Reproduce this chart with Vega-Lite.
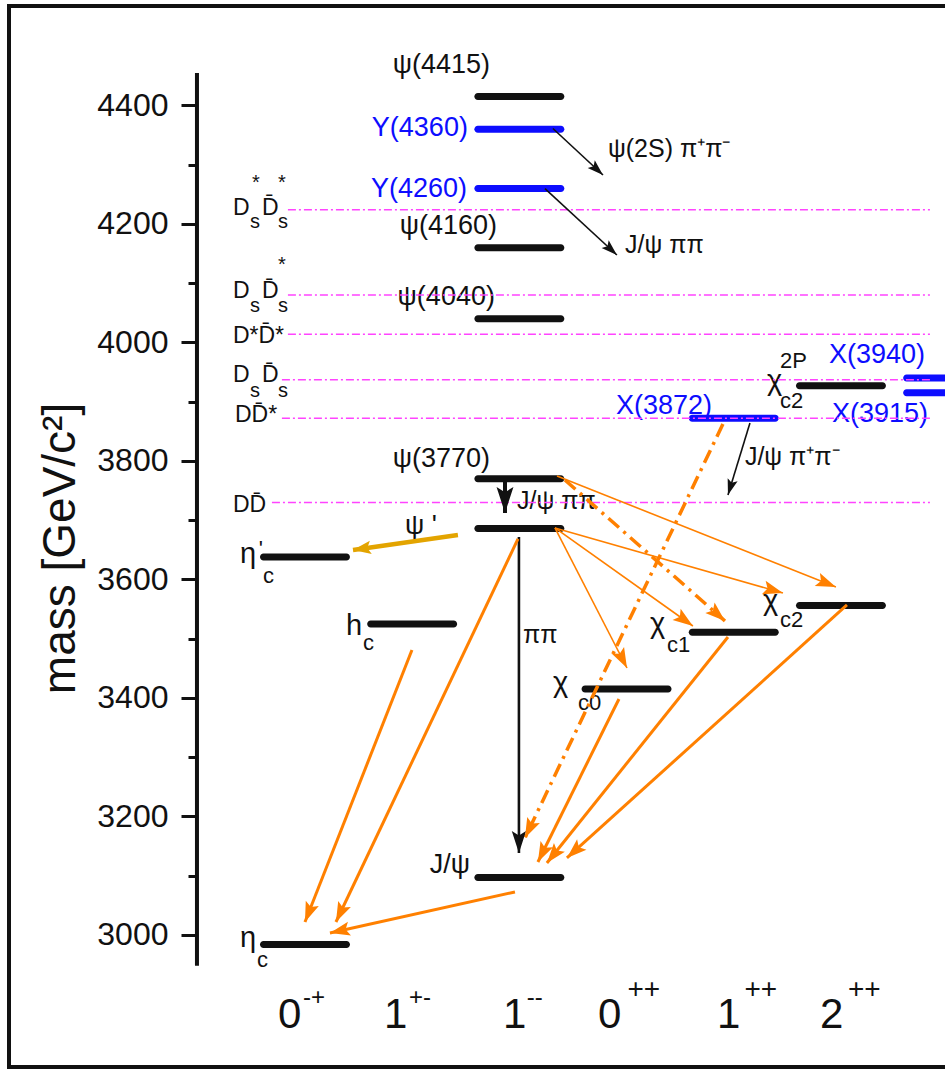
{
  "$schema": "https://vega.github.io/schema/vega-lite/v6.json",
  "width": 940,
  "height": 1061,
  "padding": {"left": 9, "top": 6, "right": -4, "bottom": 2},
  "autosize": {"type": "none"},
  "background": "white",
  "config": {
    "view": {"stroke": "#111", "strokeWidth": 4},
    "text": {"font": "Liberation Sans"}
  },
  "resolve": {"axis": {"y": "independent"}},
  "datasets": {
    "axisLine": [{"ax": -1.0075, "lo": 2948, "hi": 4455}],
    "levels": [
      {"name": "eta_c", "col": 0, "m": 2984, "kind": "cc"},
      {"name": "eta_c(2S)", "col": 0, "m": 3638, "kind": "cc"},
      {"name": "h_c", "col": 1, "m": 3525, "kind": "cc"},
      {"name": "J/psi", "col": 2, "m": 3097, "kind": "cc"},
      {"name": "psi(2S)", "col": 2, "m": 3686, "kind": "cc"},
      {"name": "psi(3770)", "col": 2, "m": 3770, "kind": "cc"},
      {"name": "psi(4040)", "col": 2, "m": 4040, "kind": "cc"},
      {"name": "psi(4160)", "col": 2, "m": 4160, "kind": "cc"},
      {"name": "psi(4415)", "col": 2, "m": 4415, "kind": "cc"},
      {"name": "Y(4260)", "col": 2, "m": 4260, "kind": "exotic"},
      {"name": "Y(4360)", "col": 2, "m": 4360, "kind": "exotic"},
      {"name": "chi_c0", "col": 3, "m": 3415, "kind": "cc"},
      {"name": "chi_c1", "col": 4, "m": 3511, "kind": "cc"},
      {"name": "chi_c2", "col": 5, "m": 3556, "kind": "cc"},
      {"name": "X(3872)", "col": 4, "m": 3872, "kind": "exotic"},
      {"name": "chi_c2(2P)", "col": 5, "m": 3927, "kind": "cc"},
      {"name": "X(3940)", "col": 6, "m": 3940, "kind": "exotic"},
      {"name": "X(3915)", "col": 6, "m": 3915, "kind": "exotic"}
    ],
    "thresholds": [
      {"name": "Ds*Ds*", "m": 4224, "x0": -0.159, "x1": 5.83},
      {"name": "DsDs*", "m": 4080, "x0": -0.159, "x1": 5.83},
      {"name": "D*D*", "m": 4014, "x0": -0.159, "x1": 5.83},
      {"name": "DsDs", "m": 3937, "x0": -0.215, "x1": 5.83},
      {"name": "DD*", "m": 3872, "x0": -0.215, "x1": 5.83},
      {"name": "DD", "m": 3730, "x0": -0.308, "x1": 5.83}
    ],
    "arrows": [
      {"x1": 2.313, "m1": 4361.2, "x2": 2.78, "m2": 4282.7, "kind": "bt"},
      {"x1": 2.239, "m1": 4259.8, "x2": 2.91, "m2": 4147.7, "kind": "bt"},
      {"x1": 4.151, "m1": 3864.1, "x2": 3.946, "m2": 3742.6, "kind": "bt"},
      {"x1": 1.866, "m1": 3771.3, "x2": 1.866, "m2": 3712.2, "kind": "bk"},
      {"x1": 1.996, "m1": 3671.7, "x2": 1.996, "m2": 3138.4, "kind": "bm"},
      {"x1": 1.427, "m1": 3675.1, "x2": 0.448, "m2": 3649.8, "kind": "gold"},
      {"x1": 2.332, "m1": 3687, "x2": 3.004, "m2": 3450.6, "kind": "ot"},
      {"x1": 2.332, "m1": 3687, "x2": 3.619, "m2": 3521.5, "kind": "ot"},
      {"x1": 2.332, "m1": 3687, "x2": 4.459, "m2": 3577.2, "kind": "ot"},
      {"x1": 2.351, "m1": 3774.7, "x2": 4.953, "m2": 3587.3, "kind": "ot"},
      {"x1": 2.425, "m1": 3768, "x2": 3.918, "m2": 3530, "kind": "od"},
      {"x1": 3.899, "m1": 3862.4, "x2": 2.052, "m2": 3163.7, "kind": "od"},
      {"x1": 1.987, "m1": 3668.4, "x2": 0.289, "m2": 3021.9, "kind": "ok"},
      {"x1": 0.998, "m1": 3481, "x2": 0.0, "m2": 3021.9, "kind": "ok"},
      {"x1": 1.959, "m1": 3072.6, "x2": 0.233, "m2": 3003.4, "kind": "ok"},
      {"x1": 2.929, "m1": 3398.3, "x2": 2.173, "m2": 3123.2, "kind": "ok"},
      {"x1": 3.946, "m1": 3503, "x2": 2.257, "m2": 3121.5, "kind": "ok"},
      {"x1": 5.056, "m1": 3557, "x2": 2.444, "m2": 3130, "kind": "ok"}
    ],
    "labels": [
      {"t": "ψ(4415)", "x": 1.726, "m": 4468, "role": "nameR", "kind": "cc"},
      {"t": "Y(4360)", "x": 1.52, "m": 4362, "role": "nameR", "kind": "exotic"},
      {"t": "Y(4260)", "x": 1.511, "m": 4259, "role": "nameR", "kind": "exotic"},
      {"t": "ψ(4160)", "x": 1.791, "m": 4196, "role": "nameR", "kind": "cc"},
      {"t": "ψ(4040)", "x": 1.772, "m": 4076, "role": "nameR", "kind": "cc"},
      {"t": "ψ(3770)", "x": 1.726, "m": 3804, "role": "nameR", "kind": "cc"},
      {"t": "X(3872)", "x": 3.797, "m": 3893, "role": "nameR", "kind": "exotic"},
      {"t": "X(3940)", "x": 5.784, "m": 3979, "role": "nameR", "kind": "exotic"},
      {"t": "X(3915)", "x": 5.812, "m": 3880, "role": "nameR", "kind": "exotic"},
      {"t": "J/ψ", "x": 1.539, "m": 3118, "role": "nameR", "kind": "cc"},
      {"t": "ψ '", "x": 0.933, "m": 3691, "role": "nameL", "kind": "cc"},
      {"t": "ψ(2S) π⁺π⁻", "x": 2.826, "m": 4327, "role": "note", "kind": "cc"},
      {"t": "J/ψ ππ", "x": 2.985, "m": 4165, "role": "note", "kind": "cc"},
      {"t": "J/ψ ππ", "x": 1.978, "m": 3732, "role": "note", "kind": "cc"},
      {"t": "ππ", "x": 2.034, "m": 3506, "role": "note", "kind": "cc"},
      {"t": "J/ψ π⁺π⁻", "x": 4.104, "m": 3807, "role": "note", "kind": "cc"},
      {"t": "η", "x": -0.606, "m": 3627.8, "role": "sym", "kind": "cc"},
      {"t": "h", "x": 0.382, "m": 3506.3, "role": "sym", "kind": "cc"},
      {"t": "χ", "x": 2.313, "m": 3410.1, "role": "sym", "kind": "cc"},
      {"t": "χ", "x": 3.218, "m": 3509.7, "role": "sym", "kind": "cc"},
      {"t": "χ", "x": 4.272, "m": 3548.5, "role": "sym", "kind": "cc"},
      {"t": "χ", "x": 4.31, "m": 3919.8, "role": "sym", "kind": "cc"},
      {"t": "η", "x": -0.606, "m": 2979.7, "role": "sym", "kind": "cc"},
      {"t": "c", "x": -0.392, "m": 3594.1, "role": "symsub", "kind": "cc"},
      {"t": "c", "x": 0.541, "m": 3481.0, "role": "symsub", "kind": "cc"},
      {"t": "c0", "x": 2.547, "m": 3379.7, "role": "symsub", "kind": "cc"},
      {"t": "c1", "x": 3.377, "m": 3477.6, "role": "symsub", "kind": "cc"},
      {"t": "c2", "x": 4.431, "m": 3519.8, "role": "symsub", "kind": "cc"},
      {"t": "c2", "x": 4.431, "m": 3889.5, "role": "symsub", "kind": "cc"},
      {"t": "c", "x": -0.448, "m": 2946.0, "role": "symsub", "kind": "cc"},
      {"t": "'", "x": -0.43, "m": 3639.7, "role": "symsup", "kind": "cc"},
      {"t": "2P", "x": 4.431, "m": 3957, "role": "symsup", "kind": "cc"},
      {"t": "D", "x": -0.672, "m": 4215.2, "role": "dmain", "kind": "cc"},
      {"t": "D̄", "x": -0.401, "m": 4215.2, "role": "dmain", "kind": "cc"},
      {"t": "D", "x": -0.672, "m": 4075.1, "role": "dmain", "kind": "cc"},
      {"t": "D̄", "x": -0.401, "m": 4075.1, "role": "dmain", "kind": "cc"},
      {"t": "D*D̄*", "x": -0.672, "m": 3999.2, "role": "dmain", "kind": "cc"},
      {"t": "D", "x": -0.672, "m": 3933.3, "role": "dmain", "kind": "cc"},
      {"t": "D̄", "x": -0.401, "m": 3933.3, "role": "dmain", "kind": "cc"},
      {"t": "DD̄*", "x": -0.653, "m": 3865.8, "role": "dmain", "kind": "cc"},
      {"t": "DD̄", "x": -0.672, "m": 3713.9, "role": "dmain", "kind": "cc"},
      {"t": "s", "x": -0.513, "m": 4193.2, "role": "dsub", "kind": "cc"},
      {"t": "s", "x": -0.252, "m": 4193.2, "role": "dsub", "kind": "cc"},
      {"t": "s", "x": -0.513, "m": 4051.5, "role": "dsub", "kind": "cc"},
      {"t": "s", "x": -0.252, "m": 4051.5, "role": "dsub", "kind": "cc"},
      {"t": "s", "x": -0.513, "m": 3908.0, "role": "dsub", "kind": "cc"},
      {"t": "s", "x": -0.252, "m": 3908.0, "role": "dsub", "kind": "cc"},
      {"t": "*", "x": -0.494, "m": 4259.1, "role": "dsup", "kind": "cc"},
      {"t": "*", "x": -0.252, "m": 4259.1, "role": "dsup", "kind": "cc"},
      {"t": "*", "x": -0.252, "m": 4120.7, "role": "dsup", "kind": "cc"},
      {"t": "0", "x": -0.252, "m": 2843.0, "role": "jpc", "kind": "cc"},
      {"t": "1", "x": 0.737, "m": 2843.0, "role": "jpc", "kind": "cc"},
      {"t": "1", "x": 1.847, "m": 2843.0, "role": "jpc", "kind": "cc"},
      {"t": "0", "x": 2.733, "m": 2843.0, "role": "jpc", "kind": "cc"},
      {"t": "1", "x": 3.843, "m": 2843.0, "role": "jpc", "kind": "cc"},
      {"t": "2", "x": 4.804, "m": 2843.0, "role": "jpc", "kind": "cc"},
      {"t": "-+", "x": -0.019, "m": 2881.9, "role": "jpcLow", "kind": "cc"},
      {"t": "+-", "x": 0.97, "m": 2881.9, "role": "jpcLow", "kind": "cc"},
      {"t": "--", "x": 2.07, "m": 2881.9, "role": "jpcLow", "kind": "cc"},
      {"t": "++", "x": 3.008, "m": 2893.7, "role": "jpcHigh", "kind": "cc"},
      {"t": "++", "x": 4.1, "m": 2893.7, "role": "jpcHigh", "kind": "cc"},
      {"t": "++", "x": 5.065, "m": 2893.7, "role": "jpcHigh", "kind": "cc"}
    ]
  },
  "layer": [
    {
      "data": {"name": "axisLine"},
      "mark": {"type": "rule", "color": "#111", "strokeWidth": 4},
      "encoding": {
        "x": {"field": "ax", "type": "quantitative", "scale": {"domain": [-2.761, 6.008], "nice": false, "zero": false}, "axis": null},
        "y": {
          "field": "lo", "type": "quantitative",
          "scale": {"domain": [2777.2, 4567.9], "nice": false, "zero": false},
          "axis": {
            "orient": "left", "offset": -188, "domain": false, "grid": false, "labels": false, "title": null,
            "values": [3100, 3300, 3500, 3700, 3900, 4100, 4300],
            "tickSize": 9, "tickWidth": 3, "tickColor": "#111"
          }
        },
        "y2": {"field": "hi"}
      }
    },
    {
      "data": {"name": "levels"},
      "mark": {"type": "tick", "orient": "horizontal", "size": 90, "thickness": 7, "cornerRadius": 3.5, "opacity": 1},
      "encoding": {
        "x": {"field": "col", "type": "quantitative", "scale": {"domain": [-2.761, 6.008], "nice": false, "zero": false}, "axis": null},
        "y": {
          "field": "m", "type": "quantitative",
          "scale": {"domain": [2777.2, 4567.9], "nice": false, "zero": false},
          "axis": {
            "orient": "left", "offset": -188, "domain": false, "grid": false,
            "values": [3000, 3200, 3400, 3600, 3800, 4000, 4200, 4400],
            "format": "d",
            "tickSize": 16, "tickWidth": 3, "tickColor": "#111",
            "labelFont": "Liberation Sans", "labelFontSize": 32, "labelColor": "#111", "labelPadding": 13,
            "title": "mass [GeV/c²]", "titleFont": "Liberation Sans", "titleFontSize": 46, "titleFontWeight": "normal",
            "titleColor": "#111", "titlePadding": 12, "titleY": 542
          }
        },
        "color": {"field": "kind", "type": "nominal", "scale": {"domain": ["cc", "exotic"], "range": ["#111111", "#0d0dff"]}, "legend": null}
      }
    },
    {
      "data": {"name": "labels"},
      "transform": [{"filter": "datum.role === 'nameR'"}],
      "mark": {"type": "text", "align": "right", "baseline": "middle", "fontSize": 27},
      "encoding": {
        "x": {"field": "x", "type": "quantitative", "scale": {"domain": [-2.761, 6.008], "nice": false, "zero": false}, "axis": null},
        "y": {"field": "m", "type": "quantitative", "scale": {"domain": [2777.2, 4567.9], "nice": false, "zero": false}, "axis": null},
        "text": {"field": "t"},
        "color": {"field": "kind", "type": "nominal", "scale": {"domain": ["cc", "exotic"], "range": ["#111111", "#0d0dff"]}, "legend": null}
      }
    },
    {
      "data": {"name": "labels"},
      "transform": [{"filter": "datum.role === 'nameL'"}],
      "mark": {"type": "text", "align": "left", "baseline": "middle", "fontSize": 27, "color": "#111"},
      "encoding": {
        "x": {"field": "x", "type": "quantitative", "scale": {"domain": [-2.761, 6.008], "nice": false, "zero": false}, "axis": null},
        "y": {"field": "m", "type": "quantitative", "scale": {"domain": [2777.2, 4567.9], "nice": false, "zero": false}, "axis": null},
        "text": {"field": "t"}
      }
    },
    {
      "data": {"name": "labels"},
      "transform": [{"filter": "datum.role === 'note'"}],
      "mark": {"type": "text", "align": "left", "baseline": "middle", "fontSize": 25, "color": "#111"},
      "encoding": {
        "x": {"field": "x", "type": "quantitative", "scale": {"domain": [-2.761, 6.008], "nice": false, "zero": false}, "axis": null},
        "y": {"field": "m", "type": "quantitative", "scale": {"domain": [2777.2, 4567.9], "nice": false, "zero": false}, "axis": null},
        "text": {"field": "t"}
      }
    },
    {
      "data": {"name": "labels"},
      "transform": [{"filter": "datum.role === 'sym'"}],
      "mark": {"type": "text", "align": "left", "baseline": "alphabetic", "fontSize": 29, "color": "#111"},
      "encoding": {
        "x": {"field": "x", "type": "quantitative", "scale": {"domain": [-2.761, 6.008], "nice": false, "zero": false}, "axis": null},
        "y": {"field": "m", "type": "quantitative", "scale": {"domain": [2777.2, 4567.9], "nice": false, "zero": false}, "axis": null},
        "text": {"field": "t"}
      }
    },
    {
      "data": {"name": "labels"},
      "transform": [{"filter": "datum.role === 'symsub' || datum.role === 'symsup'"}],
      "mark": {"type": "text", "align": "left", "baseline": "alphabetic", "fontSize": 22, "color": "#111"},
      "encoding": {
        "x": {"field": "x", "type": "quantitative", "scale": {"domain": [-2.761, 6.008], "nice": false, "zero": false}, "axis": null},
        "y": {"field": "m", "type": "quantitative", "scale": {"domain": [2777.2, 4567.9], "nice": false, "zero": false}, "axis": null},
        "text": {"field": "t"}
      }
    },
    {
      "data": {"name": "labels"},
      "transform": [{"filter": "datum.role === 'dmain'"}],
      "mark": {"type": "text", "align": "left", "baseline": "alphabetic", "fontSize": 23, "color": "#111"},
      "encoding": {
        "x": {"field": "x", "type": "quantitative", "scale": {"domain": [-2.761, 6.008], "nice": false, "zero": false}, "axis": null},
        "y": {"field": "m", "type": "quantitative", "scale": {"domain": [2777.2, 4567.9], "nice": false, "zero": false}, "axis": null},
        "text": {"field": "t"}
      }
    },
    {
      "data": {"name": "labels"},
      "transform": [{"filter": "datum.role === 'dsub' || datum.role === 'dsup'"}],
      "mark": {"type": "text", "align": "left", "baseline": "alphabetic", "fontSize": 20, "color": "#111"},
      "encoding": {
        "x": {"field": "x", "type": "quantitative", "scale": {"domain": [-2.761, 6.008], "nice": false, "zero": false}, "axis": null},
        "y": {"field": "m", "type": "quantitative", "scale": {"domain": [2777.2, 4567.9], "nice": false, "zero": false}, "axis": null},
        "text": {"field": "t"}
      }
    },
    {
      "data": {"name": "labels"},
      "transform": [{"filter": "datum.role === 'jpc'"}],
      "mark": {"type": "text", "align": "left", "baseline": "alphabetic", "fontSize": 42, "color": "#111"},
      "encoding": {
        "x": {"field": "x", "type": "quantitative", "scale": {"domain": [-2.761, 6.008], "nice": false, "zero": false}, "axis": null},
        "y": {"field": "m", "type": "quantitative", "scale": {"domain": [2777.2, 4567.9], "nice": false, "zero": false}, "axis": null},
        "text": {"field": "t"}
      }
    },
    {
      "data": {"name": "labels"},
      "transform": [{"filter": "datum.role === 'jpcLow'"}],
      "mark": {"type": "text", "align": "left", "baseline": "alphabetic", "fontSize": 24, "color": "#111"},
      "encoding": {
        "x": {"field": "x", "type": "quantitative", "scale": {"domain": [-2.761, 6.008], "nice": false, "zero": false}, "axis": null},
        "y": {"field": "m", "type": "quantitative", "scale": {"domain": [2777.2, 4567.9], "nice": false, "zero": false}, "axis": null},
        "text": {"field": "t"}
      }
    },
    {
      "data": {"name": "labels"},
      "transform": [{"filter": "datum.role === 'jpcHigh'"}],
      "mark": {"type": "text", "align": "left", "baseline": "alphabetic", "fontSize": 28, "color": "#111"},
      "encoding": {
        "x": {"field": "x", "type": "quantitative", "scale": {"domain": [-2.761, 6.008], "nice": false, "zero": false}, "axis": null},
        "y": {"field": "m", "type": "quantitative", "scale": {"domain": [2777.2, 4567.9], "nice": false, "zero": false}, "axis": null},
        "text": {"field": "t"}
      }
    },
    {
      "data": {"name": "thresholds"},
      "mark": {"type": "rule", "color": "#ff44ff", "strokeWidth": 1.5, "strokeDash": [8, 3, 2, 3]},
      "encoding": {
        "x": {"field": "x0", "type": "quantitative", "scale": {"domain": [-2.761, 6.008], "nice": false, "zero": false}, "axis": null},
        "x2": {"field": "x1"},
        "y": {"field": "m", "type": "quantitative", "scale": {"domain": [2777.2, 4567.9], "nice": false, "zero": false}, "axis": null}
      }
    },
    {
      "data": {"name": "arrows"},
      "transform": [{"filter": "datum.kind === 'bt'"}],
      "mark": {"type": "rule", "color": "#111", "strokeWidth": 1.6},
      "encoding": {
        "x": {"field": "x1", "type": "quantitative", "scale": {"domain": [-2.761, 6.008], "nice": false, "zero": false}, "axis": null},
        "x2": {"field": "x2"},
        "y": {"field": "m1", "type": "quantitative", "scale": {"domain": [2777.2, 4567.9], "nice": false, "zero": false}, "axis": null},
        "y2": {"field": "m2"}
      }
    },
    {
      "data": {"name": "arrows"},
      "transform": [{"filter": "datum.kind === 'bm'"}],
      "mark": {"type": "rule", "color": "#111", "strokeWidth": 2.6},
      "encoding": {
        "x": {"field": "x1", "type": "quantitative", "scale": {"domain": [-2.761, 6.008], "nice": false, "zero": false}, "axis": null},
        "x2": {"field": "x2"},
        "y": {"field": "m1", "type": "quantitative", "scale": {"domain": [2777.2, 4567.9], "nice": false, "zero": false}, "axis": null},
        "y2": {"field": "m2"}
      }
    },
    {
      "data": {"name": "arrows"},
      "transform": [{"filter": "datum.kind === 'bk'"}],
      "mark": {"type": "rule", "color": "#111", "strokeWidth": 4},
      "encoding": {
        "x": {"field": "x1", "type": "quantitative", "scale": {"domain": [-2.761, 6.008], "nice": false, "zero": false}, "axis": null},
        "x2": {"field": "x2"},
        "y": {"field": "m1", "type": "quantitative", "scale": {"domain": [2777.2, 4567.9], "nice": false, "zero": false}, "axis": null},
        "y2": {"field": "m2"}
      }
    },
    {
      "data": {"name": "arrows"},
      "transform": [{"filter": "datum.kind === 'gold'"}],
      "mark": {"type": "rule", "color": "#e3a400", "strokeWidth": 4.5},
      "encoding": {
        "x": {"field": "x1", "type": "quantitative", "scale": {"domain": [-2.761, 6.008], "nice": false, "zero": false}, "axis": null},
        "x2": {"field": "x2"},
        "y": {"field": "m1", "type": "quantitative", "scale": {"domain": [2777.2, 4567.9], "nice": false, "zero": false}, "axis": null},
        "y2": {"field": "m2"}
      }
    },
    {
      "data": {"name": "arrows"},
      "transform": [{"filter": "datum.kind === 'ot'"}],
      "mark": {"type": "rule", "color": "#ff8000", "strokeWidth": 1.6},
      "encoding": {
        "x": {"field": "x1", "type": "quantitative", "scale": {"domain": [-2.761, 6.008], "nice": false, "zero": false}, "axis": null},
        "x2": {"field": "x2"},
        "y": {"field": "m1", "type": "quantitative", "scale": {"domain": [2777.2, 4567.9], "nice": false, "zero": false}, "axis": null},
        "y2": {"field": "m2"}
      }
    },
    {
      "data": {"name": "arrows"},
      "transform": [{"filter": "datum.kind === 'ok'"}],
      "mark": {"type": "rule", "color": "#ff8000", "strokeWidth": 3},
      "encoding": {
        "x": {"field": "x1", "type": "quantitative", "scale": {"domain": [-2.761, 6.008], "nice": false, "zero": false}, "axis": null},
        "x2": {"field": "x2"},
        "y": {"field": "m1", "type": "quantitative", "scale": {"domain": [2777.2, 4567.9], "nice": false, "zero": false}, "axis": null},
        "y2": {"field": "m2"}
      }
    },
    {
      "data": {"name": "arrows"},
      "transform": [{"filter": "datum.kind === 'od'"}],
      "mark": {"type": "rule", "color": "#ff8000", "strokeWidth": 3.5, "strokeDash": [14, 6, 3, 6]},
      "encoding": {
        "x": {"field": "x1", "type": "quantitative", "scale": {"domain": [-2.761, 6.008], "nice": false, "zero": false}, "axis": null},
        "x2": {"field": "x2"},
        "y": {"field": "m1", "type": "quantitative", "scale": {"domain": [2777.2, 4567.9], "nice": false, "zero": false}, "axis": null},
        "y2": {"field": "m2"}
      }
    },
    {
      "data": {"name": "arrows"},
      "transform": [
        {"filter": "datum.kind === 'bt'"},
        {"calculate": "atan2((datum.x2 - datum.x1) * 107.2, (datum.m2 - datum.m1) * 0.5925) * 180 / PI", "as": "heading"}
      ],
      "mark": {"type": "point", "shape": "M0,0L0.65,2L0,1.6L-0.65,2Z", "filled": true, "size": 256, "color": "#111", "opacity": 1, "strokeWidth": 0},
      "encoding": {
        "x": {"field": "x2", "type": "quantitative", "scale": {"domain": [-2.761, 6.008], "nice": false, "zero": false}, "axis": null},
        "y": {"field": "m2", "type": "quantitative", "scale": {"domain": [2777.2, 4567.9], "nice": false, "zero": false}, "axis": null},
        "angle": {"field": "heading", "type": "quantitative", "scale": null}
      }
    },
    {
      "data": {"name": "arrows"},
      "transform": [
        {"filter": "datum.kind === 'bm'"},
        {"calculate": "atan2((datum.x2 - datum.x1) * 107.2, (datum.m2 - datum.m1) * 0.5925) * 180 / PI", "as": "heading"}
      ],
      "mark": {"type": "point", "shape": "M0,0L0.65,2L0,1.6L-0.65,2Z", "filled": true, "size": 484, "color": "#111", "opacity": 1, "strokeWidth": 0},
      "encoding": {
        "x": {"field": "x2", "type": "quantitative", "scale": {"domain": [-2.761, 6.008], "nice": false, "zero": false}, "axis": null},
        "y": {"field": "m2", "type": "quantitative", "scale": {"domain": [2777.2, 4567.9], "nice": false, "zero": false}, "axis": null},
        "angle": {"field": "heading", "type": "quantitative", "scale": null}
      }
    },
    {
      "data": {"name": "arrows"},
      "transform": [
        {"filter": "datum.kind === 'bk'"},
        {"calculate": "atan2((datum.x2 - datum.x1) * 107.2, (datum.m2 - datum.m1) * 0.5925) * 180 / PI", "as": "heading"}
      ],
      "mark": {"type": "point", "shape": "M0,0L0.65,2L0,1.6L-0.65,2Z", "filled": true, "size": 676, "color": "#111", "opacity": 1, "strokeWidth": 0},
      "encoding": {
        "x": {"field": "x2", "type": "quantitative", "scale": {"domain": [-2.761, 6.008], "nice": false, "zero": false}, "axis": null},
        "y": {"field": "m2", "type": "quantitative", "scale": {"domain": [2777.2, 4567.9], "nice": false, "zero": false}, "axis": null},
        "angle": {"field": "heading", "type": "quantitative", "scale": null}
      }
    },
    {
      "data": {"name": "arrows"},
      "transform": [
        {"filter": "datum.kind === 'gold'"},
        {"calculate": "atan2((datum.x2 - datum.x1) * 107.2, (datum.m2 - datum.m1) * 0.5925) * 180 / PI", "as": "heading"}
      ],
      "mark": {"type": "point", "shape": "M0,0L0.75,2L0,1.6L-0.75,2Z", "filled": true, "size": 324, "color": "#e3a400", "opacity": 1, "strokeWidth": 0},
      "encoding": {
        "x": {"field": "x2", "type": "quantitative", "scale": {"domain": [-2.761, 6.008], "nice": false, "zero": false}, "axis": null},
        "y": {"field": "m2", "type": "quantitative", "scale": {"domain": [2777.2, 4567.9], "nice": false, "zero": false}, "axis": null},
        "angle": {"field": "heading", "type": "quantitative", "scale": null}
      }
    },
    {
      "data": {"name": "arrows"},
      "transform": [
        {"filter": "datum.kind === 'ot' || datum.kind === 'ok' || datum.kind === 'od'"},
        {"calculate": "atan2((datum.x2 - datum.x1) * 107.2, (datum.m2 - datum.m1) * 0.5925) * 180 / PI", "as": "heading"}
      ],
      "mark": {"type": "point", "shape": "M0,0L0.7,2L0,1.6L-0.7,2Z", "filled": true, "size": 400, "color": "#ff8000", "opacity": 1, "strokeWidth": 0},
      "encoding": {
        "x": {"field": "x2", "type": "quantitative", "scale": {"domain": [-2.761, 6.008], "nice": false, "zero": false}, "axis": null},
        "y": {"field": "m2", "type": "quantitative", "scale": {"domain": [2777.2, 4567.9], "nice": false, "zero": false}, "axis": null},
        "angle": {"field": "heading", "type": "quantitative", "scale": null}
      }
    }
  ]
}
